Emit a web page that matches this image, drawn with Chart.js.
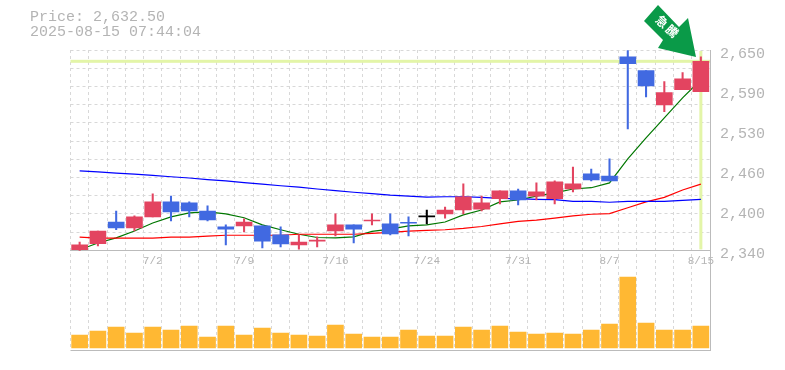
<!DOCTYPE html>
<html>
<head>
<meta charset="utf-8">
<title>Price</title>
<script src="https://cdn.jsdelivr.net/npm/chart.js@4"></script>
<style>
body { margin: 0; background: #fff; }
#wrap { position: relative; width: 785px; height: 370px; overflow: hidden; }
#info { position: absolute; left: 30px; top: 10px; font: 15px/15px "Liberation Mono", monospace; color: #b4b4b4; white-space: pre; }
#flag { position: absolute; left: 0; top: 0; }
</style>
</head>
<body>
<div id="wrap">
	<canvas id="chart" width="785" height="370"></canvas>
	<div id="info">Price: 2,632.50
2025-08-15 07:44:04</div>
	<svg id="flag" width="785" height="80">
		<polygon points="658,5 644,21 663,40 658,48 696,57 688,18 679,27" fill="#0a9a48"/>
		<text x="667" y="28" transform="rotate(42 667 28)" text-anchor="middle" dominant-baseline="middle" fill="#fff" font-family="Noto Sans CJK JP" font-weight="700" font-size="12" letter-spacing="2">急騰</text>
	</svg>
</div>
<script>
var fechas = ['6/26','6/27','6/30','7/1','7/2','7/3','7/4','7/7','7/8','7/9','7/10','7/11','7/14','7/15','7/16','7/17','7/18','7/22','7/23','7/24','7/25','7/28','7/29','7/30','7/31','8/1','8/4','8/5','8/6','8/7','8/8','8/12','8/13','8/14','8/15'];
var fechasVisibles = ['7/2','7/9','7/16','7/24','7/31','8/7','8/15'];

var abre = [2341,2350.5,2384,2375,2392,2415,2413.5,2401,2376.5,2378,2378,2364,2348.5,2354.5,2370,2379.5,2385.5,2381,2383,2392,2396.5,2402.5,2404,2420,2432,2424,2420,2435,2458.5,2455,2639.5,2618,2565,2588.5,2585.5];
var alto = [2353,2370,2401,2393.5,2427.5,2424,2415,2409,2379.5,2389,2378,2376.5,2364,2361,2396.5,2379.5,2396.5,2396.5,2392,2402.5,2407,2443,2424,2432,2435,2444.5,2447.5,2469,2466,2481.5,2649,2618,2601,2615,2639.5];
var bajo = [2340,2347,2372,2370,2392,2385.5,2392,2385.5,2348.5,2368.5,2344,2345.5,2342,2345.5,2362.5,2351.5,2379.5,2364,2362.5,2381,2390,2396.5,2401,2412,2410.5,2418,2412,2430.5,2447.5,2447.5,2528,2577.5,2554.5,2588.5,2585.5];
var cierra = [2348.5,2370,2375,2392,2415,2399.5,2401,2387,2373,2384,2354.5,2350,2353,2356,2379.5,2373,2387,2365.5,2382,2392,2402.5,2423,2413.5,2432,2418,2430.5,2446,2443,2449,2447.5,2629,2594.5,2584,2605.5,2632.5];

var mediaCorta = [2341,2351.5,2359.5,2370,2382.5,2392,2398,2399.5,2396.5,2390.5,2379.5,2372,2365,2360,2359.5,2361,2369.5,2373,2378,2379.5,2384,2395,2402.5,2415,2418,2424,2429,2435,2437,2444.5,2481.5,2514,2545,2576,2604];
var mediaMedia = [2360.5,2359,2359,2359,2359,2360.5,2360.5,2362,2363.5,2363.5,2363.5,2363.5,2365,2365,2365,2365,2366.5,2368,2370,2371,2372,2374,2377,2381,2385,2387,2390,2393.5,2396,2397,2406,2415,2422,2433.5,2442.5];
var mediaLarga = [2463,2461.5,2459.5,2458,2456,2454,2452,2449.5,2447.5,2445,2442.5,2440,2438,2435,2432.5,2430,2428,2425.5,2424,2422.5,2423,2423,2422,2420.5,2420,2419,2418.5,2416,2416,2414.5,2416,2416,2416,2417.5,2419];

var volumen = [13,17,21,15,21,18,22,11,22,13,20,15,13,12,23,14,11,11,18,12,12,21,18,22,16,14,15,14,18,24,71,25,18,18,22];

var precioTicks = [2340,2402,2464,2526,2588,2650];
var precioLabels = ['2,340','2,400','2,460','2,530','2,590','2,650'];
var ultimoPrecio = 2632.5;

var rojo = '#e34460', azul = '#4169e1', negro = '#000000';
var gris = '#bbbbbb', rejilla = '#d8d8d8', lima = '#e3f5a8';

var colores = [];
var cuerpos = [];
var mechas = [];
for (var i = 0; i < fechas.length; i++) {
	cuerpos.push([abre[i], cierra[i]]);
	mechas.push([bajo[i], alto[i]]);
	if (cierra[i] > abre[i]) colores.push(rojo);
	else if (cierra[i] < abre[i]) colores.push(azul);
	else colores.push(negro);
}

// lineas del ultimo precio y de la ultima sesion, y linea base del volumen
var lineasFondo = {
	id: 'lineasFondo',
	beforeDatasetsDraw: function (chart) {
		var c = chart.ctx, a = chart.chartArea;
		var py = chart.scales.y.getPixelForValue(ultimoPrecio);
		var px = chart.scales.x.getPixelForValue(fechas.length - 1);
		c.save();
		c.fillStyle = lima;
		c.fillRect(a.left, py - 1.5, a.right - a.left, 3);
		c.fillRect(px - 1.5, a.top + 1, 3, chart.scales.y.getPixelForValue(2340) - a.top - 2);
		c.fillStyle = gris;
		c.fillRect(a.left, a.bottom, a.right - a.left + 1, 1);
		c.restore();
	}
};

function lineaMedia(datos, color) {
	return { type: 'line', data: datos, yAxisID: 'y', borderColor: color, borderWidth: 1.2, pointRadius: 0, tension: 0, fill: false, order: 5 };
}

new Chart(document.getElementById('chart'), {
	data: {
		labels: fechas,
		datasets: [
			{ type: 'bar', data: volumen, yAxisID: 'yVol', backgroundColor: '#ffb833', barThickness: 16, order: 6 },
			lineaMedia(mediaLarga, '#0000ff'),
			lineaMedia(mediaMedia, '#ff0000'),
			lineaMedia(mediaCorta, '#007700'),
			{ type: 'bar', data: mechas, yAxisID: 'y', backgroundColor: colores, barThickness: 1.4, grouped: false, order: 2 },
			{ type: 'bar', data: cuerpos, yAxisID: 'y', backgroundColor: colores, barThickness: 16, minBarLength: 1, grouped: false, order: 1 }
		]
	},
	plugins: [lineasFondo],
	options: {
		responsive: false,
		animation: false,
		layout: { padding: { left: 70.5, top: 50, bottom: 20, right: 0 } },
		plugins: { legend: { display: false }, tooltip: { enabled: false }, title: { display: false } },
		datasets: { bar: { grouped: false } },
		scales: {
			x: {
				position: { y: 2340 },
				offset: true,
				afterFit: function (s) { s.height = 0; },
				grid: { offset: true, color: rejilla, drawTicks: false },
				border: { color: gris, dash: [3, 3], display: true },
				ticks: {
					autoSkip: false,
					maxRotation: 0,
					padding: 4,
					color: '#b4b4b4',
					font: { family: 'Liberation Mono', size: 11 },
					callback: function (v, k) {
						var f = fechas[k];
						return fechasVisibles.indexOf(f) >= 0 ? f : '';
					}
				}
			},
			y: {
				position: 'right',
				min: 2186,
				max: 2650,
				afterBuildTicks: function (s) {
					s.ticks = precioTicks.map(function (v) { return { value: v }; });
				},
				afterFit: function (s) { s.width = 75; },
				grid: { display: false },
				border: { display: true, color: gris },
				ticks: {
					padding: 2,
					labelOffset: 4,
					color: '#b4b4b4',
					font: { family: 'Liberation Mono', size: 15 },
					callback: function (v) {
						return precioLabels[precioTicks.indexOf(v)];
					}
				}
			},
			yRejilla: {
				position: 'right',
				min: 2186,
				max: 2650,
				afterBuildTicks: function (s) {
					var t = [];
					for (var k = 1; k <= 11; k++) t.push({ value: 2340 + k * 310 / 11 });
					s.ticks = t;
				},
				afterFit: function (s) { s.width = 0; },
				grid: { color: rejilla, drawTicks: false },
				border: { display: false, dash: [3, 3] },
				ticks: { display: false }
			},
			yVol: { display: false, min: -2, max: 298 }
		}
	}
});
</script>
</body>
</html>
